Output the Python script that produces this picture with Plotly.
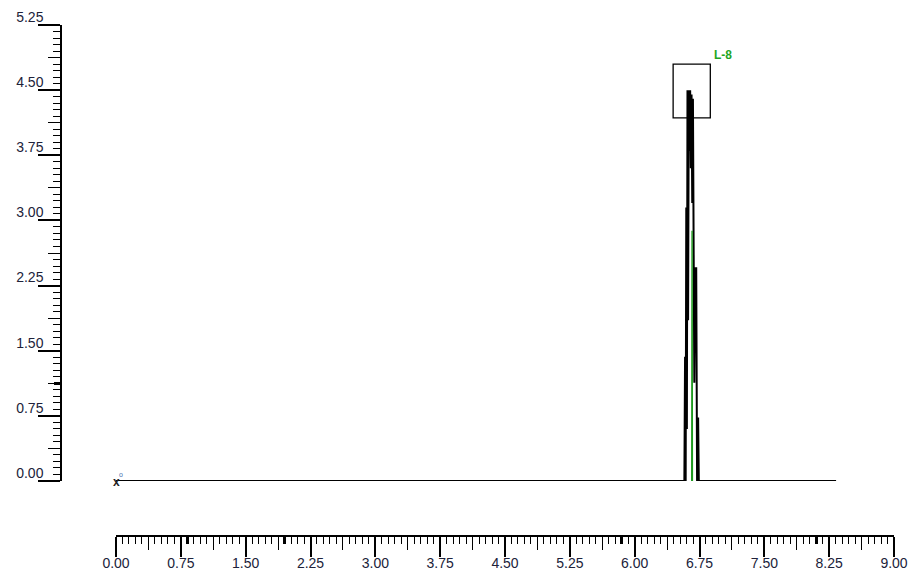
import plotly.graph_objects as go

# ---- data ----
sig_x = [0.00, 6.575, 6.583, 6.590, 6.597, 6.604, 6.611, 6.618, 6.626, 6.634, 6.642, 6.650,
         6.658, 6.666, 6.674, 6.682, 6.690, 6.700, 6.712, 6.722, 6.728, 6.734, 6.742, 8.33]
sig_y = [0.00, 0.00, 1.43, 0.00, 3.15, 0.60, 4.50, 1.85, 4.50, 3.80, 4.50, 3.60,
         4.45, 3.20, 4.40, 2.00, 1.13, 2.45, 2.45, 0.00, 0.73, 0.73, 0.00, 0.00]
green_x = [6.660, 6.664, 6.668]
green_y = [0.00, 2.88, 0.00]
peak_label = "L-8"
peak_x = 6.645
peak_y = 4.50

x_major = [i * 0.75 for i in range(13)]
x_mid = [0.375 + i * 0.75 for i in range(12)]
x_bold = [0.825, 1.95, 5.85, 8.10]
y_major = [i * 0.75 for i in range(8)]
y_mid = [0.375 + i * 0.75 for i in range(7)]
y_bold = [1.125]

x_tick_text = ["%.2f" % v for v in x_major]
y_tick_text = ["%.2f" % v for v in y_major]

W, H = 910, 573
ML, MR, MT, MB = 61, 16, 25, 37
plot_w = W - ML - MR
plot_h = H - MT - MB
x_dom0 = (116 - ML) / plot_w
y_dom0 = (H - MB - 481) / plot_h

fig = go.Figure()
fig.add_trace(go.Scatter(x=sig_x, y=sig_y, mode="lines",
                         line=dict(color="black", width=2), hoverinfo="skip", showlegend=False))
fig.add_trace(go.Scatter(x=green_x, y=green_y, mode="lines",
                         line=dict(color="#1f9a1f", width=1.4), hoverinfo="skip", showlegend=False))
# dummy traces to bring overlay axes into existence
fig.add_trace(go.Scatter(x=[None], y=[None], xaxis="x2", yaxis="y2", showlegend=False, hoverinfo="skip"))
fig.add_trace(go.Scatter(x=[None], y=[None], xaxis="x3", yaxis="y3", showlegend=False, hoverinfo="skip"))

tickfont = dict(family="Liberation Sans, Arial, sans-serif", size=14, color="#20223a")

common_x = dict(domain=[x_dom0, 1], range=[0, 9], anchor="free", position=0, automargin=False,
                showgrid=False, zeroline=False, fixedrange=True)
common_y = dict(domain=[y_dom0, 1], range=[0, 5.25], anchor="free", position=0, automargin=False,
                showgrid=False, zeroline=False, fixedrange=True)

fig.update_layout(
    width=W, height=H,
    margin=dict(l=ML, r=MR, t=MT, b=MB),
    paper_bgcolor="white", plot_bgcolor="white",
    xaxis=dict(**common_x, showline=True, linecolor="black", linewidth=1.5,
               ticks="outside", ticklen=20, tickwidth=1.5, tickcolor="black",
               tickmode="array", tickvals=x_major, ticktext=x_tick_text, tickfont=tickfont,
               ticklabelstandoff=-6,
               minor=dict(dtick=0.075, tick0=0, ticklen=7, tickwidth=1, tickcolor="black", ticks="outside")),
    xaxis2=dict(**common_x, overlaying="x", showline=False, ticks="outside", ticklen=13, tickwidth=1.2,
                tickcolor="black", tickmode="array", tickvals=x_mid, showticklabels=False),
    xaxis3=dict(**common_x, overlaying="x", showline=False, ticks="outside", ticklen=7, tickwidth=3,
                tickcolor="black", tickmode="array", tickvals=x_bold, showticklabels=False),
    yaxis=dict(**common_y, showline=True, linecolor="black", linewidth=1.5,
               ticks="outside", ticklen=22, tickwidth=1.5, tickcolor="black",
               tickmode="array", tickvals=y_major, ticktext=y_tick_text, tickfont=tickfont,
               ticklabelshift=-8, ticklabelstandoff=-8,
               minor=dict(dtick=0.075, tick0=0, ticklen=7, tickwidth=1, tickcolor="black", ticks="outside")),
    yaxis2=dict(**common_y, overlaying="y", showline=False, ticks="outside", ticklen=13, tickwidth=1.2,
                tickcolor="black", tickmode="array", tickvals=y_mid, showticklabels=False),
    yaxis3=dict(**common_y, overlaying="y", showline=False, ticks="outside", ticklen=7, tickwidth=3,
                tickcolor="black", tickmode="array", tickvals=y_bold, showticklabels=False),
    showlegend=False,
)

fig.add_shape(type="rect", xref="x", yref="y",
              x0=peak_x - 0.20, x1=peak_x + 0.23, y0=peak_y - 0.32, y1=peak_y + 0.30,
              line=dict(color="black", width=1.3), fillcolor="rgba(0,0,0,0)")
fig.add_annotation(x=peak_x + 0.25, y=peak_y + 0.40, xref="x", yref="y", text="<b>" + peak_label + "</b>",
                   showarrow=False, xanchor="left", yanchor="middle",
                   font=dict(family="Liberation Sans, Arial, sans-serif", size=12, color="#1fa61f"))
fig.add_annotation(x=0, y=0, xref="x", yref="y", text="<b>x</b>", showarrow=False,
                   xanchor="center", yanchor="middle", xshift=0, yshift=-1,
                   font=dict(family="Liberation Sans, Arial, sans-serif", size=12, color="#222"))
fig.add_annotation(x=0, y=0, xref="x", yref="y", text="o", showarrow=False,
                   xanchor="center", yanchor="middle", xshift=5, yshift=7,
                   font=dict(family="Liberation Sans, Arial, sans-serif", size=7, color="#4a6fb0"))

fig.write_html(
    "out.html",
    config={"displayModeBar": False},
    post_script="document.body.style.margin='0';document.documentElement.style.overflow='hidden';",
)
